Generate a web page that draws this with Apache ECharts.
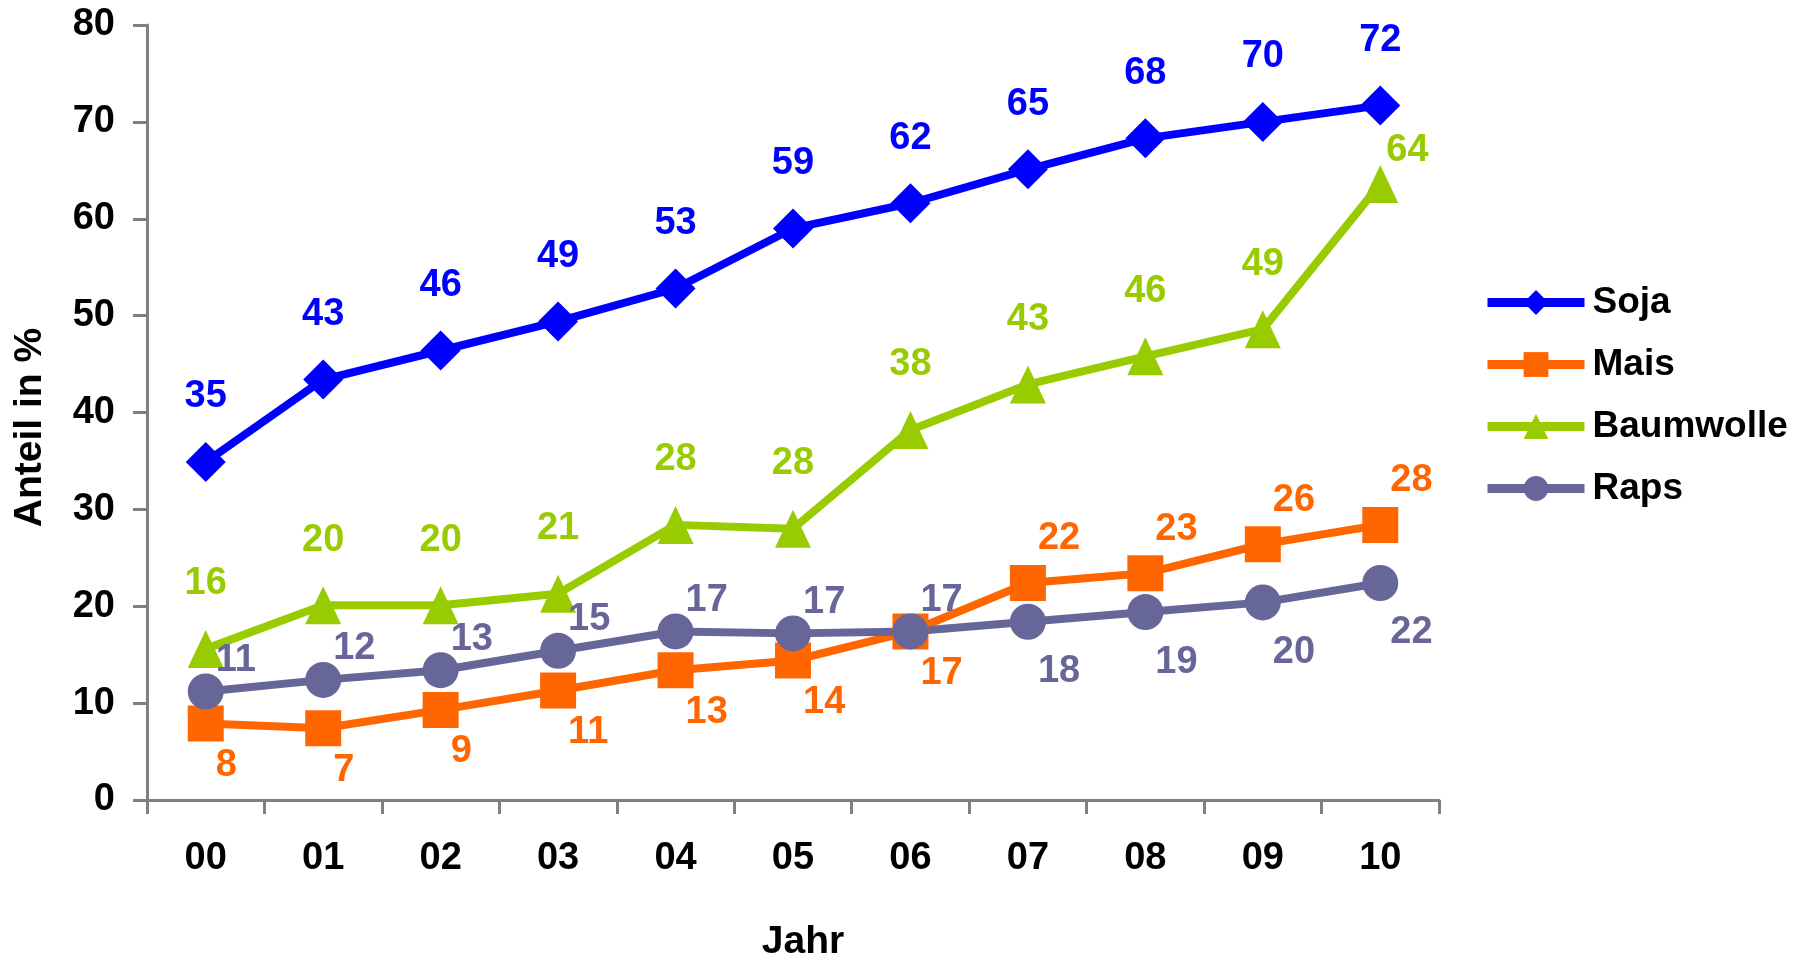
<!DOCTYPE html>
<html>
<head>
<meta charset="utf-8">
<script src="https://cdn.jsdelivr.net/npm/echarts@6/dist/echarts.min.js"></script>
<style>
html,body{margin:0;padding:0;background:#fff;}
#c{width:1798px;height:967px;}
</style>
</head>
<body>
<div id="c"></div>
<script>
const categories = ['00','01','02','03','04','05','06','07','08','09','10'];
const soja      = [34.9, 43.4, 46.4, 49.4, 52.8, 59.0, 61.6, 65.1, 68.3, 70.0, 71.7];
const mais      = [7.9, 7.4, 9.3, 11.3, 13.4, 14.4, 17.4, 22.4, 23.4, 26.4, 28.4];
const baumwolle = [15.6, 20.1, 20.1, 21.3, 28.4, 28.0, 38.2, 42.9, 45.8, 48.6, 63.6];
const raps      = [11.2, 12.4, 13.4, 15.4, 17.4, 17.2, 17.4, 18.4, 19.4, 20.4, 22.4];
const yTicks    = { min: 0, max: 80, interval: 10 };

const FONT = '"Liberation Sans", Arial, sans-serif';
const C = { soja: '#0000FF', mais: '#FF6600', baum: '#99CC00', raps: '#666699' };

function lbl(color, align, offset) {
  return {
    show: true, position: 'inside', align: align, verticalAlign: 'middle',
    offset: offset, color: color, fontFamily: FONT, fontWeight: 'bold', fontSize: 38,
    formatter: p => String(Math.round(p.value))
  };
}
function items(values, labelFn) {
  return values.map((v, i) => ({ value: v, label: labelFn(i, values.length) }));
}

const series = [
  { name: 'Soja', color: C.soja, symbol: 'diamond', symbolSize: 40,
    data: items(soja, () => lbl(C.soja, 'center', [0, -65])) },
  { name: 'Mais', color: C.mais, symbol: 'rect', symbolSize: 36,
    data: items(mais, i => i < 7 ? lbl(C.mais, 'left', [10, 42]) : lbl(C.mais, 'left', [10, -44])) },
  { name: 'Baumwolle', color: C.baum, symbol: 'triangle', symbolSize: [36, 38],
    data: items(baumwolle, (i, n) => i < n - 1 ? lbl(C.baum, 'center', [0, -65]) : lbl(C.baum, 'left', [6, -33])) },
  { name: 'Raps', color: C.raps, symbol: 'circle', symbolSize: 36,
    data: items(raps, i => i < 7 ? lbl(C.raps, 'left', [10, -31]) : lbl(C.raps, 'left', [10, 50])) }
].map(s => Object.assign({
  type: 'line', showAllSymbol: true, animation: false,
  lineStyle: { width: 8, color: s.color },
  itemStyle: { color: s.color }
}, s));

const axisLine = { show: true, lineStyle: { color: '#808080', width: 3 } };
const axisTick = { show: true, length: 14, lineStyle: { color: '#808080', width: 3 } };
const axisText = { color: '#000', fontFamily: FONT, fontWeight: 'bold', fontSize: 38 };
const nameText = { color: '#000', fontFamily: FONT, fontWeight: 'bold', fontSize: 39 };

const chart = echarts.init(document.getElementById('c'));
chart.setOption({
  backgroundColor: '#fff',
  animation: false,
  grid: { left: 147, right: 359, top: 25, bottom: 160, containLabel: false },
  legend: {
    orient: 'vertical', left: 1478, top: 279,
    itemWidth: 97, itemHeight: 31, itemGap: 25,
    lineStyle: { width: 9 },
    textStyle: { color: '#000', fontFamily: FONT, fontWeight: 'bold', fontSize: 37, padding: [0, 0, 0, 3] },
    data: ['Soja', 'Mais', 'Baumwolle', 'Raps']
  },
  xAxis: {
    type: 'category', data: categories, boundaryGap: true,
    name: 'Jahr', nameLocation: 'middle', nameGap: 123,
    nameTextStyle: Object.assign({ padding: [0, 0, 0, 20] }, nameText),
    axisLine: axisLine, axisTick: axisTick,
    axisLabel: Object.assign({ margin: 40 }, axisText),
    splitLine: { show: false }
  },
  yAxis: {
    type: 'value', min: yTicks.min, max: yTicks.max, interval: yTicks.interval,
    name: 'Anteil in %', nameLocation: 'middle', nameGap: 97, nameRotate: 90,
    nameTextStyle: Object.assign({ padding: [0, 30, 0, 0] }, nameText),
    axisLine: axisLine, axisTick: axisTick,
    axisLabel: Object.assign({ margin: 32 }, axisText),
    splitLine: { show: false }
  },
  series: series
});
</script>
</body>
</html>
